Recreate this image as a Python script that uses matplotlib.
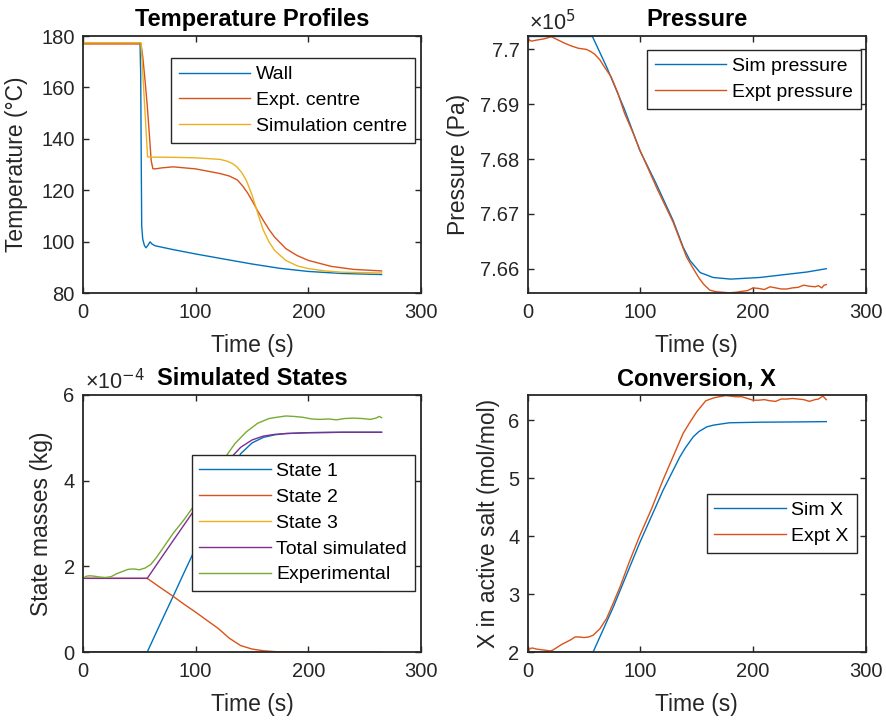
import matplotlib
matplotlib.use("Agg")
import matplotlib.pyplot as plt
from matplotlib.ticker import FuncFormatter

# MATLAB default line colours
BLUE = "#0072BD"
ORANGE = "#D95319"
YELLOW = "#EDB120"
PURPLE = "#7E2F8E"
GREEN = "#77AC30"
DARK = "#262626"

# --- Temperature profiles (degC) ---
t_wall = [0, 50.6, 51.2, 51.7, 52.1, 53, 54.5, 55.9, 57.5, 59.5, 61.5, 63.9, 80, 100, 121.6,
          150, 175, 200, 230, 265]
T_wall = [177.4, 177.4, 165, 130, 106, 101, 98.5, 97.6, 98.5, 99.9, 99.0, 98.4, 96.9, 95.2, 93.5,
          91.3, 89.6, 88.4, 87.6, 87.2]

t_expt_c = [0, 51.5, 53, 55, 57, 59, 60.5, 62, 64, 70, 80, 100, 121.6, 130, 137, 142, 146, 150,
            155, 160, 165, 170, 180, 190, 200, 220, 240, 265]
T_expt_c = [176.9, 176.9, 172, 163, 153, 141, 131.5, 128.4, 128.3, 128.7, 129.1, 128.3, 126.5,
            125.5, 124.0, 121.5, 119, 116, 112, 108.3, 104.8, 101.8, 97.3, 94.6, 92.7, 90.4, 89.2,
            88.6]

t_sim_c = [0, 51.5, 57.3, 59, 80, 100, 121.6, 128, 133, 137, 141, 145, 150, 155, 160, 165, 170,
           180, 190, 200, 215, 230, 265]
T_sim_c = [177.4, 177.4, 133.0, 132.9, 132.8, 132.6, 132.0, 131.3, 130.3, 128.9, 126.8, 123.8,
           118.2, 111.2, 104.5, 100.0, 96.6, 92.7, 90.6, 89.5, 88.6, 88.1, 87.8]

# --- Pressure (Pa) ---
t_p_sim = [0, 57.4, 70, 86, 99.4, 114, 129, 138, 144, 153, 164.5, 180, 206, 227, 248, 265]
p_sim = [770235, 770235, 769680, 768900, 768160, 767550, 766880, 766390, 766150, 765930, 765840,
         765810, 765840, 765890, 765940, 766000]

t_p_exp = [0, 1.5, 3.3, 8, 14, 21, 27, 33, 39, 45, 52, 56, 59.5, 64, 68, 74, 80, 86, 93, 99.4,
           107, 115, 122, 129, 135, 141, 147, 152, 156, 161.5, 167, 173, 179, 185, 191, 195, 200,
           205, 210, 215, 220, 225, 230, 235, 240, 245, 250, 255, 258, 261, 263, 265]
p_exp = [770210, 770170, 770150, 770170, 770190, 770230, 770170, 770110, 770060, 770020, 770000,
         769960, 769910, 769810, 769680, 769500, 769200, 768830, 768500, 768170, 767820, 767450,
         767150, 766850, 766530, 766210, 766000, 765830, 765720, 765610, 765580, 765570, 765560,
         765570, 765590, 765600, 765650, 765640, 765620, 765670, 765650, 765630, 765630, 765650,
         765660, 765700, 765680, 765670, 765690, 765650, 765700, 765710]

# --- Simulated states (kg) ---
t_states = [0, 57, 70, 80, 90, 100, 110, 120, 130, 140, 150, 160, 170, 180, 200, 230, 265]
state1 = [0, 0, 0.74e-4, 1.30e-4, 1.87e-4, 2.43e-4, 3.01e-4, 3.58e-4, 4.18e-4, 4.63e-4, 4.88e-4,
          5.01e-4, 5.07e-4, 5.10e-4, 5.12e-4, 5.13e-4, 5.13e-4]
state2 = [1.72e-4, 1.72e-4, 1.48e-4, 1.30e-4, 1.11e-4, 0.93e-4, 0.74e-4, 0.55e-4, 0.32e-4,
          0.15e-4, 0.07e-4, 0.03e-4, 0.01e-4, 0, 0, 0, 0]
state3 = [0] * len(t_states)
total_sim = [a + b + c for a, b, c in zip(state1, state2, state3)]

t_m_exp = [0, 3, 6, 10, 15, 20, 25, 30, 35, 40, 45, 50, 55, 60, 65, 70, 80, 90, 97, 105, 115,
           125, 135, 145, 155, 165, 172, 180, 187, 195, 203, 210, 218, 225, 232, 240, 248, 255,
           260, 263, 265]
m_exp = [1.72e-4, 1.77e-4, 1.78e-4, 1.77e-4, 1.75e-4, 1.74e-4, 1.76e-4, 1.83e-4, 1.88e-4, 1.93e-4,
         1.94e-4, 1.92e-4, 1.96e-4, 2.04e-4, 2.20e-4, 2.39e-4, 2.77e-4, 3.10e-4, 3.36e-4, 3.68e-4,
         4.08e-4, 4.50e-4, 4.87e-4, 5.14e-4, 5.34e-4, 5.45e-4, 5.48e-4, 5.51e-4, 5.50e-4, 5.48e-4,
         5.44e-4, 5.43e-4, 5.44e-4, 5.42e-4, 5.45e-4, 5.46e-4, 5.45e-4, 5.43e-4, 5.46e-4, 5.50e-4,
         5.47e-4]

# --- Conversion X (mol/mol) ---
t_x_sim = [0, 58, 76, 99, 120, 135, 140, 147, 152, 159, 165, 179, 206, 240, 265]
x_sim = [2.0, 2.0, 2.78, 3.87, 4.79, 5.37, 5.53, 5.72, 5.81, 5.89, 5.92, 5.96, 5.97, 5.975, 5.98]

t_x_exp = [0, 2, 4, 8, 12, 16, 20, 22, 26, 30, 34, 38, 42, 46, 50, 54, 58, 64, 70, 76, 82, 90,
           99, 110, 120, 130, 138, 144, 150, 158, 165, 170, 176, 180, 185, 190, 195, 200, 205,
           210, 215, 220, 225, 230, 235, 240, 245, 250, 255, 258, 262, 265]
x_exp = [2.0, 2.06, 2.07, 2.05, 2.04, 2.03, 2.02, 2.03, 2.08, 2.13, 2.17, 2.21, 2.26, 2.26, 2.25,
         2.26, 2.29, 2.40, 2.58, 2.85, 3.13, 3.55, 3.99, 4.48, 4.97, 5.42, 5.78, 5.97, 6.15, 6.34,
         6.39, 6.41, 6.43, 6.42, 6.41, 6.41, 6.38, 6.35, 6.35, 6.36, 6.34, 6.33, 6.37, 6.37, 6.38,
         6.37, 6.36, 6.33, 6.36, 6.37, 6.42, 6.36]

plt.rcParams["font.family"] = ["Liberation Sans", "DejaVu Sans"]
plt.rcParams["axes.edgecolor"] = DARK
plt.rcParams["xtick.color"] = DARK
plt.rcParams["ytick.color"] = DARK

TICK_FS = 14.5
LABEL_FS = 16.5
TITLE_FS = 17
LEG_FS = 14
LW = 1.0


def style_axes(ax, title, ylabel, ylabel_x):
    ax.set_xlim(0, 300)
    ax.set_xticks([0, 100, 200, 300])
    for s in ax.spines.values():
        s.set_linewidth(1.3)
    ax.tick_params(direction="in", top=True, right=True, length=4, width=1,
                   labelsize=TICK_FS)
    ax.tick_params(axis="x", pad=7)
    ax.tick_params(axis="y", pad=6)
    ax.set_title(title, fontsize=TITLE_FS, fontweight="bold", pad=7)
    ax.set_xlabel("Time (s)", fontsize=LABEL_FS, color=DARK)
    ax.set_ylabel(ylabel, fontsize=LABEL_FS, color=DARK)
    ax.xaxis.set_label_coords(0.5, -0.158)
    ax.yaxis.set_label_coords(ylabel_x, 0.5)


def legend(ax, anchor):
    leg = ax.legend(loc="upper right", bbox_to_anchor=anchor, fontsize=LEG_FS,
                    handlelength=3.66, handletextpad=0.3, borderpad=0.4,
                    labelspacing=0.42, borderaxespad=0, fancybox=False,
                    framealpha=1, edgecolor=DARK)
    leg.get_frame().set_linewidth(1.0)
    return leg


fig = plt.figure(figsize=(8.87, 7.2), dpi=100)
ax1 = fig.add_axes([0.0936, 0.593, 0.381, 0.357])
ax2 = fig.add_axes([0.595, 0.593, 0.381, 0.357])
ax3 = fig.add_axes([0.0936, 0.0944, 0.381, 0.357])
ax4 = fig.add_axes([0.595, 0.0944, 0.381, 0.357])

# Temperature profiles
ax1.plot(t_wall, T_wall, color=BLUE, lw=LW, label="Wall")
ax1.plot(t_expt_c, T_expt_c, color=ORANGE, lw=LW, label="Expt. centre")
ax1.plot(t_sim_c, T_sim_c, color=YELLOW, lw=LW, label="Simulation centre")
ax1.set_ylim(80, 180)
ax1.set_yticks(range(80, 181, 20))
style_axes(ax1, "Temperature Profiles", "Temperature (°C)", -0.163)
legend(ax1, (0.982, 0.914))

# Pressure
ax2.plot(t_p_sim, p_sim, color=BLUE, lw=LW, label="Sim pressure")
ax2.plot(t_p_exp, p_exp, color=ORANGE, lw=LW, label="Expt pressure")
ax2.set_ylim(765556, 770244)
ax2.set_yticks([766000, 767000, 768000, 769000, 770000])
ax2.yaxis.set_major_formatter(FuncFormatter(lambda v, p: "%g" % round(v / 1e5, 6)))
style_axes(ax2, "Pressure", "Pressure (Pa)", -0.172)
ax2.text(0.005, 1.023, "×10$^{5}$", transform=ax2.transAxes, fontsize=15.5,
         color=DARK, ha="left", va="baseline")
legend(ax2, (0.985, 0.946))

# Simulated states
ax3.plot(t_states, state1, color=BLUE, lw=LW, label="State 1")
ax3.plot(t_states, state2, color=ORANGE, lw=LW, label="State 2")
ax3.plot(t_states, state3, color=YELLOW, lw=LW, label="State 3")
ax3.plot(t_states, total_sim, color=PURPLE, lw=LW, label="Total simulated")
ax3.plot(t_m_exp, m_exp, color=GREEN, lw=LW, label="Experimental")
ax3.set_ylim(0, 6e-4)
ax3.set_yticks([0, 2e-4, 4e-4, 6e-4])
ax3.yaxis.set_major_formatter(FuncFormatter(lambda v, p: "%g" % round(v / 1e-4, 6)))
style_axes(ax3, "Simulated States", "State masses (kg)", -0.089)
ax3.text(0.005, 1.023, "×10$^{-4}$", transform=ax3.transAxes, fontsize=15.5,
         color=DARK, ha="left", va="baseline")
legend(ax3, (0.982, 0.767))

# Conversion
ax4.plot(t_x_sim, x_sim, color=BLUE, lw=LW, label="Sim X")
ax4.plot(t_x_exp, x_exp, color=ORANGE, lw=LW, label="Expt X")
ax4.set_ylim(2, 6.44)
ax4.set_yticks([2, 3, 4, 5, 6])
style_axes(ax4, "Conversion, X", "X in active salt (mol/mol)", -0.083)
legend(ax4, (0.973, 0.616))

fig.savefig("out.png", dpi=100)
